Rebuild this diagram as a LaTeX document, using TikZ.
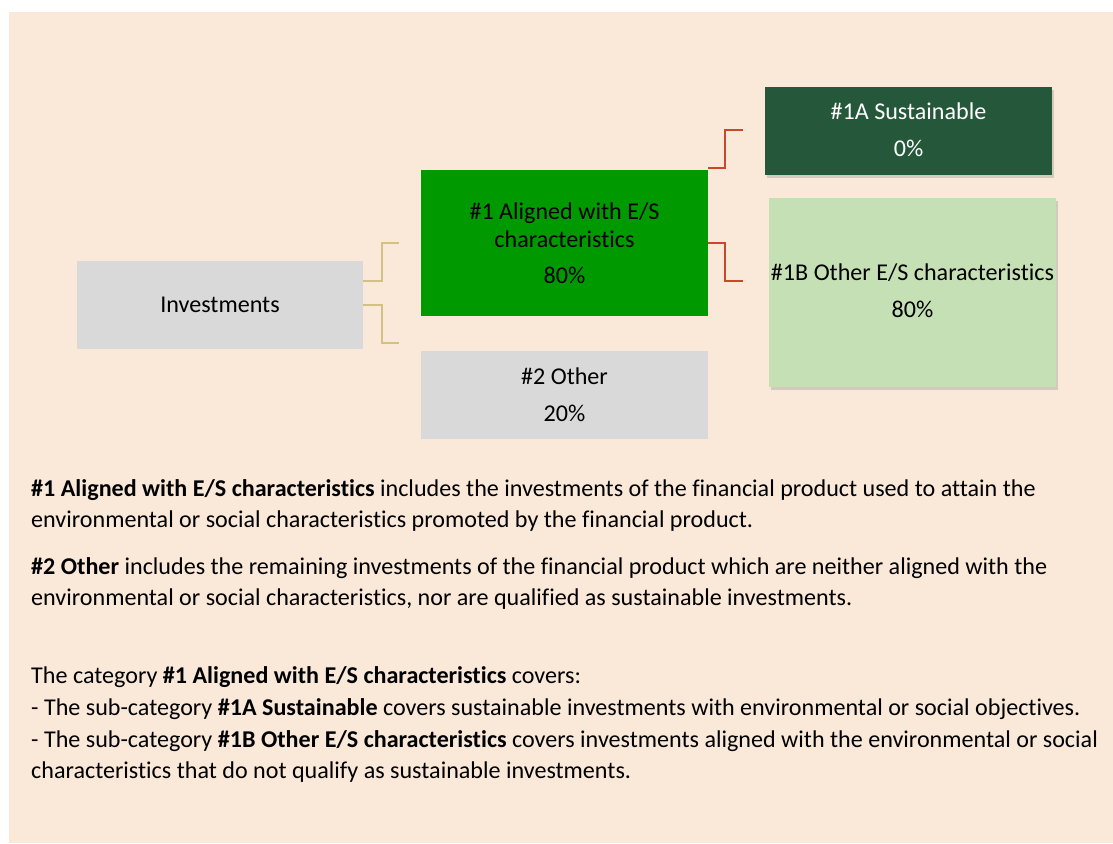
\documentclass[tikz,border=0pt]{standalone}
\usepackage{fontspec}
\setmainfont{Carlito}[Ligatures={NoCommon}]
\usetikzlibrary{shadows}
\definecolor{bgpeach}{HTML}{FAE8D8}
\definecolor{boxgrey}{HTML}{D9D9D9}
\definecolor{midgreen}{HTML}{009A00}
\definecolor{darkgreen}{HTML}{25573A}
\definecolor{lightgreen}{HTML}{C5E0B4}
\definecolor{tanline}{HTML}{D2C283}
\definecolor{redline}{HTML}{C9482B}
\tikzset{
  box/.style={rectangle, inner sep=0pt, anchor=north west},
  shadowbox/.style={box, drop shadow={opacity=0.3, shadow xshift=2pt, shadow yshift=-3pt}},
  boxtxt/.style={anchor=base, inner sep=0pt, font=\fontsize{24.1}{29}\selectfont},
  bodytxt/.style={anchor=base west, inner sep=0pt, font=\fontsize{24.1}{29}\selectfont},
  tanconn/.style={draw=tanline, line width=2pt},
  redconn/.style={draw=redline, line width=2pt},
}
\begin{document}
\begin{tikzpicture}[x=1pt,y=-1pt]
\useasboundingbox (0,0) rectangle (1113,843);
\fill[white] (0,0) rectangle (1113,843);
\fill[bgpeach] (9,12) rectangle (1113,843);

% boxes
\node[box, fill=boxgrey, minimum width=286pt, minimum height=88pt] (inv) at (77,261) {};
\node[box, fill=midgreen, minimum width=287pt, minimum height=146pt] (al) at (421,170) {};
\node[box, fill=boxgrey, minimum width=287pt, minimum height=88pt] (oth) at (421,351) {};
\node[shadowbox, fill=darkgreen, minimum width=287pt, minimum height=88pt] (sus) at (765,87) {};
\node[shadowbox, fill=lightgreen, minimum width=287pt, minimum height=189pt] (oes) at (769,198) {};

% box texts
\node[boxtxt] (tinv) at (220,312) {Investments};
\node[boxtxt] (tal1) at (564.5,219) {\#1 Aligned with E/S};
\node[boxtxt] (tal2) at (564.5,247) {characteristics};
\node[boxtxt] (tal3) at (564.5,283) {80\%};
\node[boxtxt] (toth1) at (564.5,384) {\#2 Other};
\node[boxtxt] (toth2) at (564.5,421) {20\%};
\node[boxtxt, text=white] (tsus1) at (908.5,119) {\#1A Sustainable};
\node[boxtxt, text=white] (tsus2) at (908.5,156) {0\%};
\node[boxtxt] (toes1) at (912.5,280) {\#1B Other E/S characteristics};
\node[boxtxt] (toes2) at (912.5,317) {80\%};

% connector ends
\coordinate (ta) at (399,243);
\coordinate (tb) at (399,343);
\coordinate (ra) at (743,130);
\coordinate (rb) at (743,281);

\draw[tanconn] ([yshift=24pt]inv.east) -| ([xshift=-17pt]ta) -- (ta);
\draw[tanconn] (inv.east) -| ([xshift=-17pt]tb) -- (tb);
\draw[redconn] ([yshift=2pt]al.north east) -| ([xshift=-18pt]ra) -- (ra);
\draw[redconn] (al.east) -| ([xshift=-18pt]rb) -- (rb);

% body text
\node[bodytxt] (b1) at (31,496) {\textbf{\#1 Aligned with E/S characteristics} includes the investments of the financial product used to attain the};
\node[bodytxt] (b2) at (31,527) {environmental or social characteristics promoted by the financial product.};
\node[bodytxt] (b3) at (31,574) {\textbf{\#2 Other} includes the remaining investments of the financial product which are neither aligned with the};
\node[bodytxt] (b4) at (31,605) {environmental or social characteristics, nor are qualified as sustainable investments.};
\node[bodytxt] (b5) at (31,683) {The category \textbf{\#1 Aligned with E/S characteristics} covers:};
\node[bodytxt] (b6) at (31,715) {- The sub-category \textbf{\#1A Sustainable} covers sustainable investments with environmental or social objectives.};
\node[bodytxt] (b7) at (31,747) {- The sub-category \textbf{\#1B Other E/S characteristics} covers investments aligned with the environmental or social};
\node[bodytxt] (b8) at (31,778) {characteristics that do not qualify as sustainable investments.};
\end{tikzpicture}
\end{document}
